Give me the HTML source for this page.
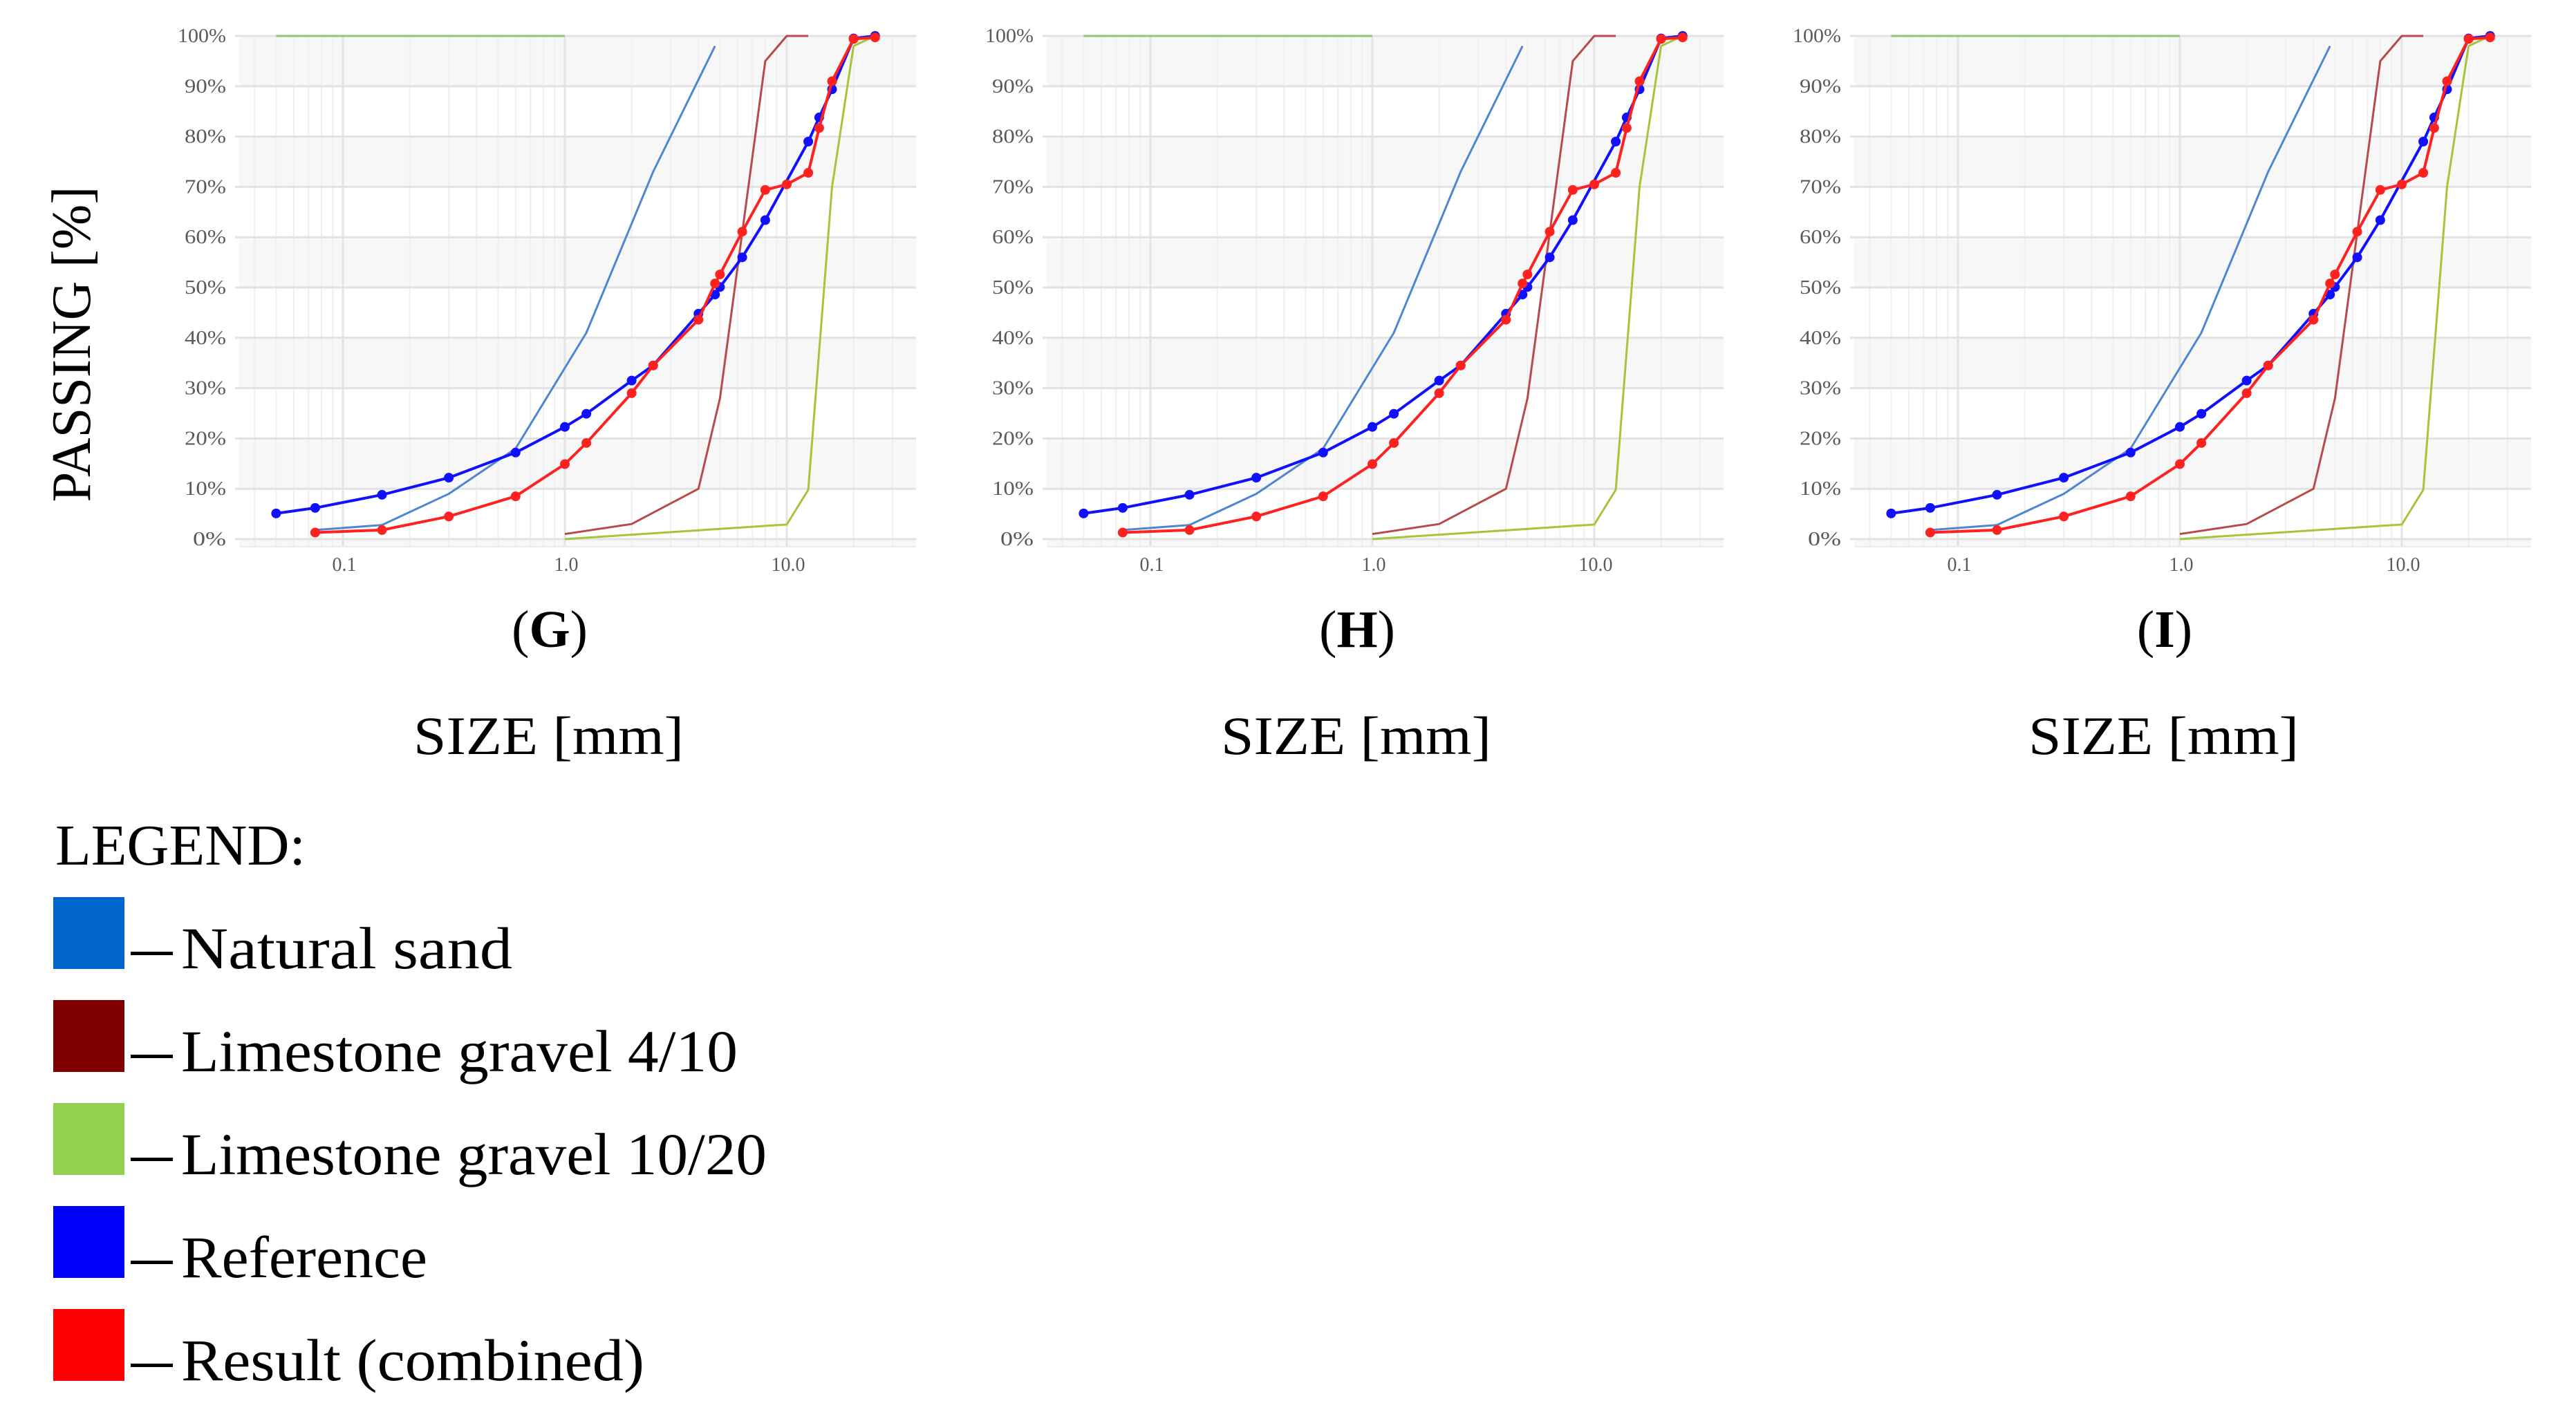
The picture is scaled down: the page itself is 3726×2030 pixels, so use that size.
<!DOCTYPE html>
<html><head><meta charset="utf-8"><style>
html,body{margin:0;padding:0;background:#fff;}
svg{display:block;}
</style></head><body>
<svg id="fig" width="3726" height="2030" viewBox="0 0 3726 2030" xmlns="http://www.w3.org/2000/svg" font-family="'Liberation Serif', serif">
<rect x="0" y="0" width="3726" height="2030" fill="#fff"/>
<g id="panels"></g>
<g id="legend">
  <text x="80" y="1251" font-size="84" textLength="362" lengthAdjust="spacingAndGlyphs" fill="#000">LEGEND:</text>
  <g>
    <rect x="77" y="1298" width="103" height="104" fill="#0066cc"/>
    <rect x="189" y="1377" width="61" height="5" fill="#000"/>
    <text x="262" y="1401" font-size="86" textLength="479" lengthAdjust="spacingAndGlyphs">Natural sand</text>
  </g>
  <g>
    <rect x="77" y="1447" width="103" height="104" fill="#7f0000"/>
    <rect x="189" y="1526" width="61" height="5" fill="#000"/>
    <text x="262" y="1550" font-size="86" textLength="805" lengthAdjust="spacingAndGlyphs">Limestone gravel 4/10</text>
  </g>
  <g>
    <rect x="77" y="1596" width="103" height="104" fill="#92d050"/>
    <rect x="189" y="1675" width="61" height="5" fill="#000"/>
    <text x="262" y="1699" font-size="86" textLength="847" lengthAdjust="spacingAndGlyphs">Limestone gravel 10/20</text>
  </g>
  <g>
    <rect x="77" y="1745" width="103" height="104" fill="#0000ff"/>
    <rect x="189" y="1824" width="61" height="5" fill="#000"/>
    <text x="262" y="1848" font-size="86" textLength="356" lengthAdjust="spacingAndGlyphs">Reference</text>
  </g>
  <g>
    <rect x="77" y="1894" width="103" height="104" fill="#ff0000"/>
    <rect x="189" y="1973" width="61" height="5" fill="#000"/>
    <text x="262" y="1997" font-size="86" textLength="670" lengthAdjust="spacingAndGlyphs">Result (combined)</text>
  </g>
</g>
<text transform="translate(130,498) rotate(-90)" text-anchor="middle" font-size="80" textLength="457" lengthAdjust="spacingAndGlyphs" fill="#000">PASSING [%]</text>
</svg>
<script>
const panelLabels = ["G","H","I"];
const yTicks = [0,10,20,30,40,50,60,70,80,90,100];
const xTickVals = [0.1,1,10];
const xTickLabels = ["0.1","1.0","10.0"];
const refX = [0.05,0.075,0.15,0.3,0.6,1.0,1.25,2.0,2.5,4.0,4.75,5.0,6.3,8.0,12.5,14,16,20,25];
const refY = [5.1,6.2,8.8,12.2,17.2,22.3,24.9,31.5,34.5,44.8,48.6,50.1,56,63.4,79,83.8,89.4,99.5,100];
const resX = [0.075,0.15,0.3,0.6,1.0,1.25,2.0,2.5,4.0,4.75,5.0,6.3,8.0,10,12.5,14,16,20,25];
const resY = [1.3,1.8,4.5,8.5,14.9,19.1,29,34.5,43.6,50.8,52.6,61.1,69.4,70.5,72.8,81.7,91,99.4,99.7];
const sandX = [0.075,0.15,0.3,0.6,1.25,2.5,4.75];
const sandY = [1.8,2.8,9,18,41,73,98];
const g410X = [1,2,4,5,8,10,12.5];
const g410Y = [1,3,10,28,95,100,100];
const g1020X = [1,10,12.5,16,20,25];
const g1020Y = [0,2.9,9.8,70,98,100];
const topX = [0.05,1.0];
const topY = [100,100];

const NS = "http://www.w3.org/2000/svg";
const PANEL_DX = 1168;
function mk(tag, attrs, parent){
  const e = document.createElementNS(NS, tag);
  for (const k in attrs) e.setAttribute(k, attrs[k]);
  parent.appendChild(e);
  return e;
}
const panelsG = document.getElementById("panels");
panelLabels.forEach((lab, pi) => {
  const ox = pi * PANEL_DX;
  const xs = v => ox + 496 + 321 * Math.log10(v / 0.1);
  const ys = v => 780 - 7.28 * v;
  const L = ox + 346, R = ox + 1325;
  const g = mk("g", {}, panelsG);
  
  
  for (let b = 10; b < 100; b += 20) {
    const r = mk("rect", {x:L, y:ys(b+10), width:R-L, height:ys(b)-ys(b+10), fill:"#f7f7f7"}, g);
    
    
  }
  mk("rect", {x:L, y:780, width:R-L, height:11, fill:"#f7f7f7"}, g);
  for (let d = 0.01; d <= 10; d *= 10) {
    for (let m = 1; m <= 9; m++) {
      const v = d * m;
      const x = xs(v);
      if (x < L || x > R) continue;
      const major = (m === 1);
      mk("line", {x1:x, x2:x, y1:52, y2:791, stroke: major ? "#e4e4e4" : "#efefef", "stroke-width": major ? 3 : 2}, g);
    }
  }
  yTicks.forEach(t => {
    const y = ys(t);
    const ln = mk("line", {x1:L-6, x2:R, y1:y, y2:y, stroke:"#e2e2e2", "stroke-width":3}, g);
    
    
    const tx = mk("text", {x:ox+327, y:y+9, "text-anchor":"end", "font-size":28, fill:"#5a5a5a", textLength: t===100?70:(t===0?48:60), lengthAdjust:"spacingAndGlyphs"}, g);
    tx.textContent = t + "%";
    
    
  });
  mk("line", {x1:L, x2:R, y1:791, y2:791, stroke:"#ececec", "stroke-width":2}, g);
  xTickVals.forEach((v, i) => {
    const tx = mk("text", {x:xs(v)+2, y:826, "text-anchor":"middle", "font-size":28, fill:"#5a5a5a"}, g);
    tx.textContent = xTickLabels[i];
    
    
  });
  function series(X, Y, color, w, name, dots){
    const pts = X.map((v,i) => xs(v).toFixed(1) + "," + ys(Y[i]).toFixed(1)).join(" ");
    const pl = mk("polyline", {points:pts, fill:"none", stroke:color, "stroke-width":w, "stroke-linejoin":"round"}, g);
    
    
    if (dots) {
      X.forEach((v,i) => {
        const c = mk("circle", {cx:xs(v), cy:ys(Y[i]), r:7, fill:color}, g);
        
        
      });
    }
  }
  series(topX, topY, "#8cc878", 3, "limestone-10-20-top", false);
  series(sandX, sandY, "#4f86d0", 3, "natural-sand", false);
  series(g410X, g410Y, "#b84a4a", 3, "limestone-4-10", false);
  series(g1020X, g1020Y, "#a8c43c", 3, "limestone-10-20", false);
  series(refX, refY, "#1010ff", 4, "reference", true);
  series(resX, resY, "#ff2020", 4, "result", true);
  const pt = mk("text", {x:ox+795, y:936, "text-anchor":"middle", "font-size":76, fill:"#000"}, g);
  
  
  const t1 = mk("tspan", {}, pt); t1.textContent = "(";
  const t2 = mk("tspan", {"font-weight":"bold"}, pt); t2.textContent = lab;
  const t3 = mk("tspan", {}, pt); t3.textContent = ")";
  const xt = mk("text", {x:ox+598, y:1091, "font-size":78, fill:"#000", textLength:391, lengthAdjust:"spacingAndGlyphs"}, g);
  xt.textContent = "SIZE [mm]";
  
  
});
</script>
</body></html>
